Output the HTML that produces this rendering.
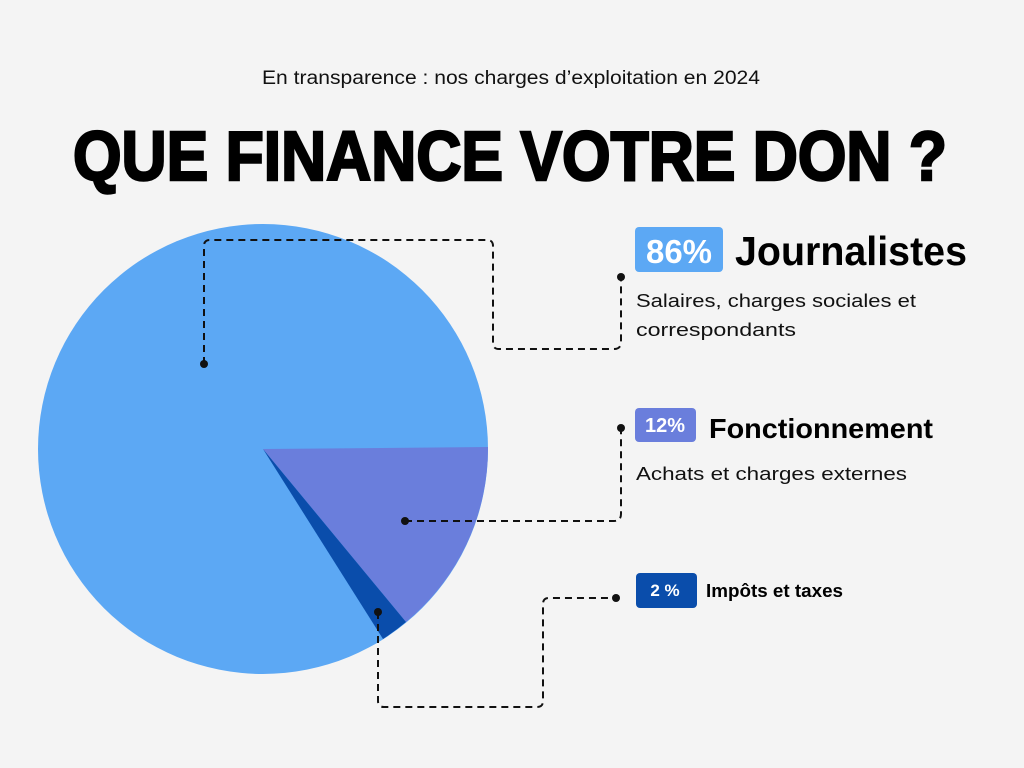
<!DOCTYPE html>
<html><head><meta charset="utf-8"><style>
html,body{margin:0;padding:0;background:#f4f4f4;}
svg{display:block}
text{font-family:"Liberation Sans",sans-serif;}
</style></head><body>
<svg width="1024" height="768" viewBox="0 0 1024 768">
<rect width="1024" height="768" fill="#f4f4f4"/>
<text x="511" y="84" font-size="19" text-anchor="middle" fill="#111" textLength="498" lengthAdjust="spacingAndGlyphs">En transparence : nos charges d’exploitation en 2024</text>
<text x="73" y="180" font-size="70" font-weight="bold" fill="#000" stroke="#000" stroke-width="2.5" textLength="874" lengthAdjust="spacingAndGlyphs">QUE FINANCE VOTRE DON ?</text>
<circle cx="263" cy="449" r="225" fill="#5ca8f4"/>
<path d="M263 449 L488 447 A225 225 0 0 1 406 622 Z" fill="#6a7edc"/>
<path d="M263 449 L406 622 A225 225 0 0 1 383 639 Z" fill="#0a4dab"/>
<g fill="none" stroke="#111" stroke-width="2" stroke-dasharray="7 5">
<path d="M204 364 V246 Q204 240 210 240 H487 Q493 240 493 246 V343 Q493 349 499 349 H614 Q621 349 621 342 V278"/>
<path d="M405 521 H614 Q621 521 621 514 V428"/>
<path d="M378 612 V701 Q378 707 384 707 H537 Q543 707 543 701 V604 Q543 598 549 598 H616"/>
</g>
<g fill="#111"><circle cx="204" cy="364" r="4"/><circle cx="621" cy="277" r="4"/><circle cx="405" cy="521" r="4"/><circle cx="621" cy="428" r="4"/><circle cx="378" cy="612" r="4"/><circle cx="616" cy="598" r="4"/></g>
<rect x="635" y="227" width="88" height="45" rx="4" fill="#5ca8f4"/>
<text x="679" y="263" font-size="33" font-weight="bold" fill="#fff" text-anchor="middle">86%</text>
<text x="735" y="265" font-size="41" font-weight="bold" fill="#000" textLength="232" lengthAdjust="spacingAndGlyphs">Journalistes</text>
<text x="636" y="307" font-size="18" fill="#111" textLength="280" lengthAdjust="spacingAndGlyphs">Salaires, charges sociales et</text>
<text x="636" y="336" font-size="18" fill="#111" textLength="160" lengthAdjust="spacingAndGlyphs">correspondants</text>
<rect x="635" y="408" width="61" height="34" rx="4" fill="#6a7edc"/>
<text x="665" y="432" font-size="20" font-weight="bold" fill="#fff" text-anchor="middle">12%</text>
<text x="709" y="438" font-size="28" font-weight="bold" fill="#000" textLength="224" lengthAdjust="spacingAndGlyphs">Fonctionnement</text>
<text x="636" y="480" font-size="18" fill="#111" textLength="271" lengthAdjust="spacingAndGlyphs">Achats et charges externes</text>
<rect x="636" y="573" width="61" height="35" rx="4" fill="#0a4dab"/>
<text x="665" y="596" font-size="17" font-weight="bold" fill="#fff" text-anchor="middle">2 %</text>
<text x="706" y="597" font-size="18" font-weight="bold" fill="#000" textLength="137" lengthAdjust="spacingAndGlyphs">Impôts et taxes</text>
</svg>
</body></html>
